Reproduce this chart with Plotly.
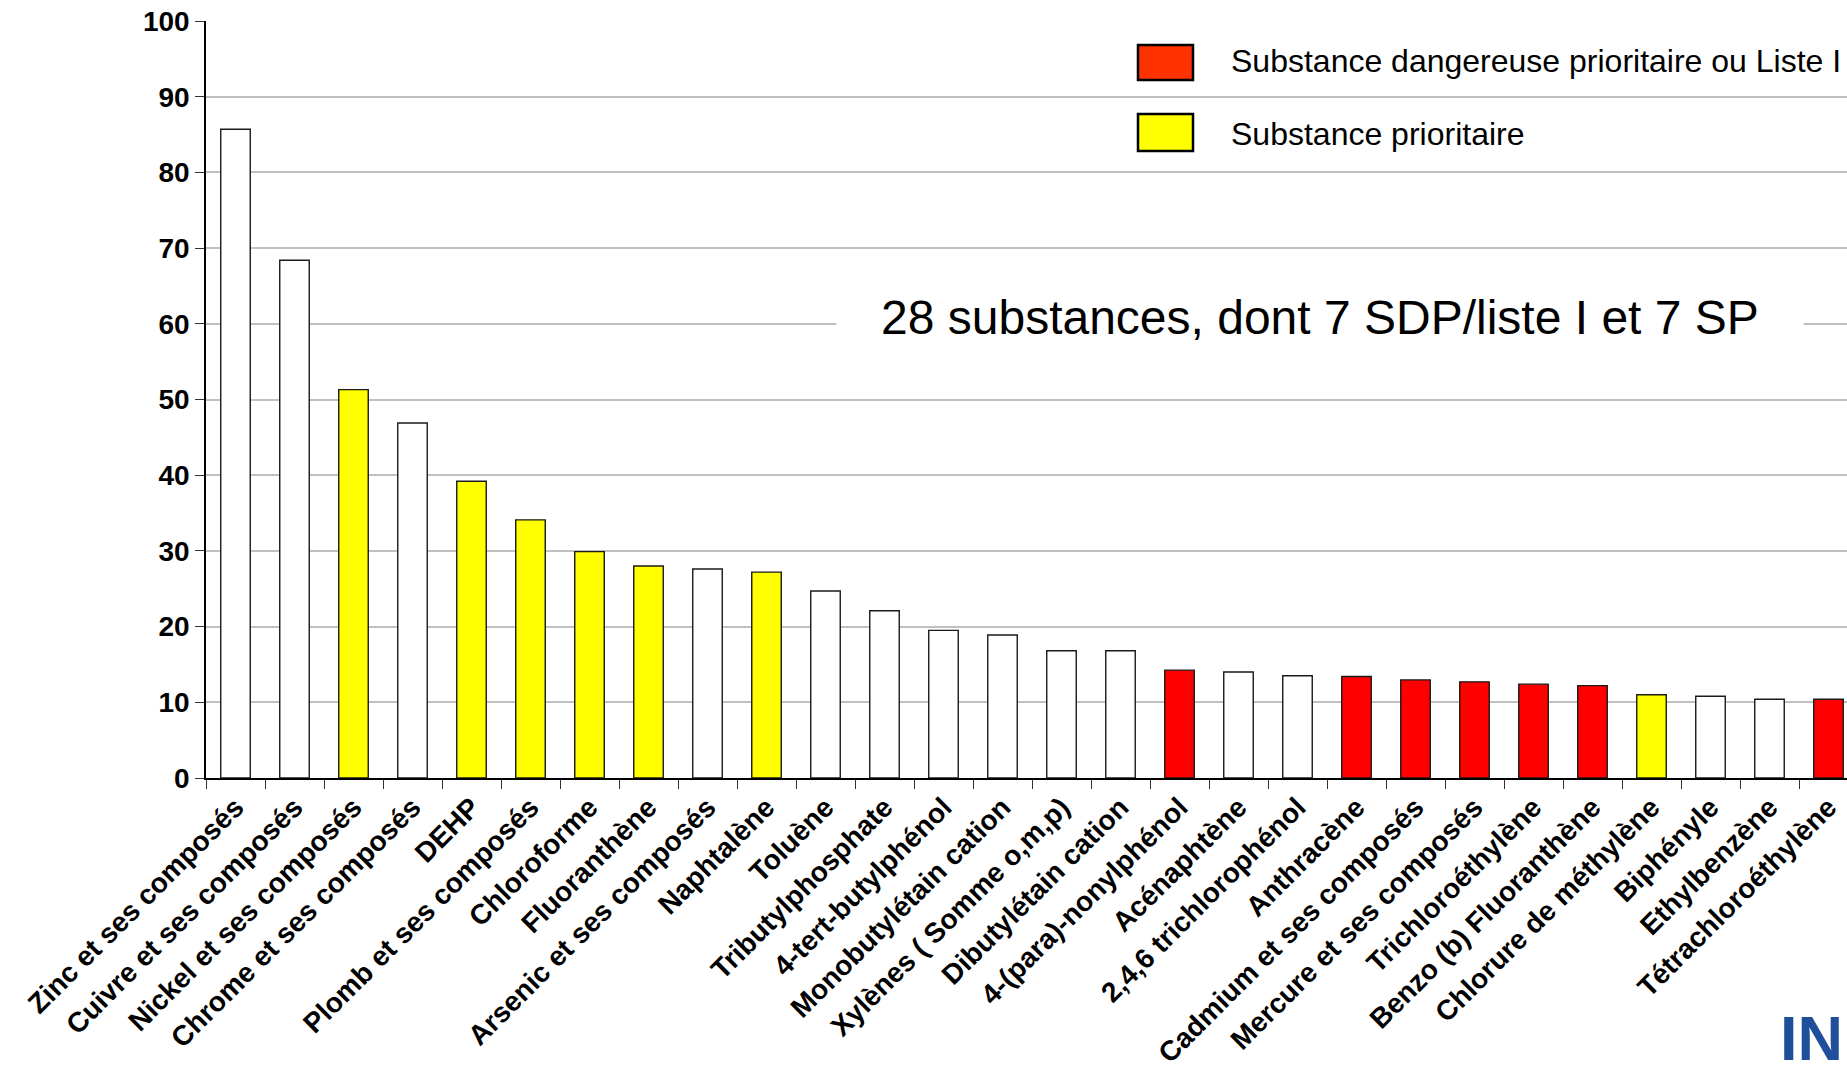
import plotly.graph_objects as go

categories = [
    "Zinc et ses composés", "Cuivre et ses composés", "Nickel et ses composés",
    "Chrome et ses composés", "DEHP", "Plomb et ses composés", "Chloroforme",
    "Fluoranthène", "Arsenic et ses composés", "Naphtalène", "Toluène",
    "Tributylphosphate", "4-tert-butylphénol", "Monobutylétain cation",
    "Xylènes ( Somme o,m,p)", "Dibutylétain cation", "4-(para)-nonylphénol",
    "Acénaphtène", "2,4,6 trichlorophénol", "Anthracène",
    "Cadmium et ses composés", "Mercure et ses composés", "Trichloroéthylène",
    "Benzo (b) Fluoranthène", "Chlorure de méthylène", "Biphényle",
    "Ethylbenzène", "Tétrachloroéthylène",
]
values = [85.7, 68.4, 51.3, 46.9, 39.2, 34.1, 29.9, 28.0, 27.6, 27.2,
          24.7, 22.1, 19.5, 18.9, 16.8, 16.8, 14.25, 14.0, 13.5, 13.4,
          12.96, 12.7, 12.4, 12.2, 11.0, 10.8, 10.4, 10.4]
# status: "SDP" = substance dangereuse prioritaire / liste I, "SP" = prioritaire, "" = autre
status = ["", "", "SP", "", "SP", "SP", "SP", "SP", "", "SP",
          "", "", "", "", "", "", "SDP", "", "", "SDP",
          "SDP", "SDP", "SDP", "SDP", "SP", "", "", "SDP"]
y_ticks = [0, 10, 20, 30, 40, 50, 60, 70, 80, 90, 100]
legend_labels = ["Substance dangereuse prioritaire ou Liste I", "Substance prioritaire"]
note_text = "28 substances, dont 7 SDP/liste I et 7 SP"
logo_text = "INERIS"

color_map = {"SDP": "#FF0000", "SP": "#FFFF00", "": "#FFFFFF"}
bar_colors = [color_map[s] for s in status]

W, H = 1847, 1074
L, T, B, R = 206, 21, 296, 0
PW, PH = W - L - R, H - T - B
FONT = "Liberation Sans, Arial, sans-serif"


def px(x):
    return (x - L) / PW


def py(y):
    return (H - B - y) / PH


fig = go.Figure()
fig.add_trace(go.Bar(
    x=categories, y=values,
    marker=dict(color=bar_colors, line=dict(color="#1a1a1a", width=1.4)),
    showlegend=False,
))

cat_px = 59.0
right_idx = (PW / cat_px) - 0.5

fig.update_layout(
    width=W, height=H,
    margin=dict(l=L, r=R, t=T, b=B, pad=0, autoexpand=False),
    paper_bgcolor="white", plot_bgcolor="white",
    bargap=0.5,
    font=dict(family=FONT, color="black"),
    xaxis=dict(
        type="category", range=[-0.5, right_idx], automargin=False,
        tickangle=-45, tickfont=dict(family=FONT, size=28, color="black", weight="bold"),
        tickson="boundaries", ticks="outside", ticklen=9, tickcolor="#333",
        showline=True, linecolor="black", linewidth=1.5,
        showgrid=False, fixedrange=True,
    ),
    yaxis=dict(
        range=[0, 100], tickvals=y_ticks, automargin=False,
        tickfont=dict(family=FONT, size=28, color="black", weight="bold"),
        ticks="outside", ticklen=9, tickcolor="#333",
        showline=True, linecolor="black", linewidth=1.5,
        showgrid=True, gridcolor="#C0C0C0", gridwidth=1.5,
        zeroline=False, fixedrange=True,
    ),
)

# Legend (drawn as swatches + labels)
sw_colors = ["#FF3300", "#FFFF00"]
sw_boxes = [(45, 80), (114, 151)]
text_y = [61, 134]
for lab, c, (y0, y1), ty in zip(legend_labels, sw_colors, sw_boxes, text_y):
    fig.add_shape(type="rect", xref="paper", yref="paper",
                  x0=px(1138), x1=px(1193), y0=py(y1), y1=py(y0),
                  fillcolor=c, line=dict(color="black", width=2.5), layer="above")
    fig.add_annotation(xref="paper", yref="paper", x=px(1229), y=py(ty),
                       xanchor="left", yanchor="middle", showarrow=False,
                       text=lab, font=dict(family=FONT, size=32, color="black"))

# Central note with white box hiding the gridline
nb = "\u00a0" * 3
fig.add_annotation(xref="paper", yref="paper", x=px(1319.5), y=py(318),
                   xanchor="center", yanchor="middle", showarrow=False,
                   text=nb + note_text + nb, bgcolor="white", borderpad=4,
                   font=dict(family=FONT, size=48, color="black"))

# Logo text, cut by the page edge
fig.add_annotation(xref="paper", yref="paper", x=px(1778), y=py(1038),
                   xanchor="left", yanchor="middle", showarrow=False,
                   text="<b>" + logo_text + "</b>",
                   font=dict(family=FONT, size=63, color="#1F4E9B"))

fig.write_html(
    "out.html",
    config={"displayModeBar": False},
    post_script="document.body.style.margin='0';document.body.style.overflow='hidden';",
)
